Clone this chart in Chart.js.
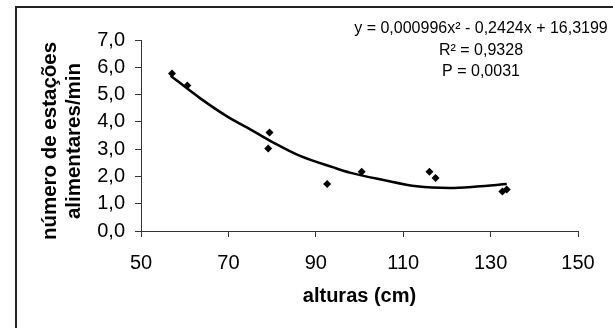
<!DOCTYPE html>
<html>
<head>
<meta charset="utf-8">
<script src="https://cdn.jsdelivr.net/npm/chart.js@4"></script>
<style>
  body { margin: 0; background: #fff; }
  #wrap { width: 613px; height: 328px; }
</style>
</head>
<body>
<div id="wrap"><canvas id="myChart"></canvas></div>
<script>
/* Data */
const alturas = [57.1, 60.6, 79.1, 79.4, 92.6, 100.5, 116.0, 117.4, 132.7, 133.7];
const estacoes = [5.77, 5.33, 3.02, 3.61, 1.72, 2.17, 2.17, 1.94, 1.45, 1.52];

// trend line as drawn in the picture
const trendX = [56.8, 63.5, 69.6, 75.7, 80.3, 86.4, 94.0, 97.8, 105.5, 113.1, 120.7, 126.8, 133.7];
const trendY = [5.69, 4.87, 4.21, 3.66, 3.24, 2.75, 2.33, 2.14, 1.87, 1.64, 1.58, 1.63, 1.72];

const xTicks = [50, 70, 90, 110, 130, 150];
const yTicks = [0, 1, 2, 3, 4, 5, 6, 7];
const yTickLabels = ["0,0", "1,0", "2,0", "3,0", "4,0", "5,0", "6,0", "7,0"];

const eqLines = ["y = 0,000996x\u00b2 - 0,2424x + 16,3199", "R\u00b2 = 0,9328", "P = 0,0031"];
const yTitle = ["número de estações", "alimentares/min"];
const xTitle = "alturas (cm)";

const FONT = "'Liberation Sans', Arial, sans-serif";
const AXIS = "#333";

/* Frame, titles and equation */
const extras = {
  id: "extras",
  beforeDraw(chart) {
    const c = chart.ctx;
    c.save();
    c.fillStyle = "#fff";
    c.fillRect(0, 0, chart.width, chart.height);
    c.strokeStyle = "#222";
    c.lineWidth = 2;
    c.strokeRect(16, 7, 700, 400);
    c.restore();
  },
  afterDraw(chart) {
    const c = chart.ctx;
    const area = chart.chartArea;
    c.save();
    c.fillStyle = "#000";
    c.textAlign = "center";
    c.textBaseline = "middle";

    c.font = "16px " + FONT;
    eqLines.forEach((t, i) => c.fillText(t, 481, 29 + i * 21.5));

    c.font = "bold 20px " + FONT;
    c.fillText(xTitle, (area.left + area.right) / 2, 296);

    c.font = "bold 20.5px " + FONT;
    c.translate(0, 141);
    c.rotate(-Math.PI / 2);
    c.fillText(yTitle[0], 0, 50);
    c.fillText(yTitle[1], 0, 74);
    c.restore();
  },
};

const ctx = document.getElementById("myChart").getContext("2d");

const data = {
  datasets: [
    {
      type: "scatter",
      data: alturas.map((x, i) => ({ x: x, y: estacoes[i] })),
      pointStyle: "rectRot",
      pointRadius: 4,
      pointBackgroundColor: "#000",
      pointBorderColor: "#000",
      pointBorderWidth: 0,
    },
    {
      type: "line",
      data: trendX.map((x, i) => ({ x: x, y: trendY[i] })),
      borderColor: "#000",
      borderWidth: 2.5,
      pointRadius: 0,
      cubicInterpolationMode: "monotone",
      fill: false,
    },
  ],
};

const config = {
  type: "scatter",
  data: data,
  options: {
    responsive: true,
    maintainAspectRatio: false,
    animation: false,
    layout: { padding: { top: 40, right: 35, left: 0, bottom: 0 } },
    plugins: {
      legend: { display: false },
      tooltip: { enabled: false },
    },
    scales: {
      x: {
        type: "linear",
        min: 50,
        max: 150,
        afterBuildTicks: (scale) => {
          scale.ticks = xTicks.map((v) => ({ value: v }));
        },
        afterFit: (scale) => {
          scale.height = 97;
        },
        grid: { drawOnChartArea: false, tickLength: 6, color: AXIS },
        border: { color: AXIS },
        ticks: {
          color: "#000",
          padding: 14,
          maxRotation: 0,
          font: { family: FONT, size: 20 },
        },
      },
      y: {
        min: 0,
        max: 7,
        afterBuildTicks: (scale) => {
          scale.ticks = yTicks.map((v) => ({ value: v }));
        },
        afterFit: (scale) => {
          scale.width = 141;
        },
        grid: { drawOnChartArea: false, tickLength: 6, color: AXIS },
        border: { color: AXIS },
        ticks: {
          color: "#000",
          padding: 10,
          font: { family: FONT, size: 20 },
          callback: (value) => yTickLabels[yTicks.indexOf(value)],
        },
      },
    },
  },
  plugins: [extras],
};

const myChart = new Chart(ctx, config);
</script>
</body>
</html>
